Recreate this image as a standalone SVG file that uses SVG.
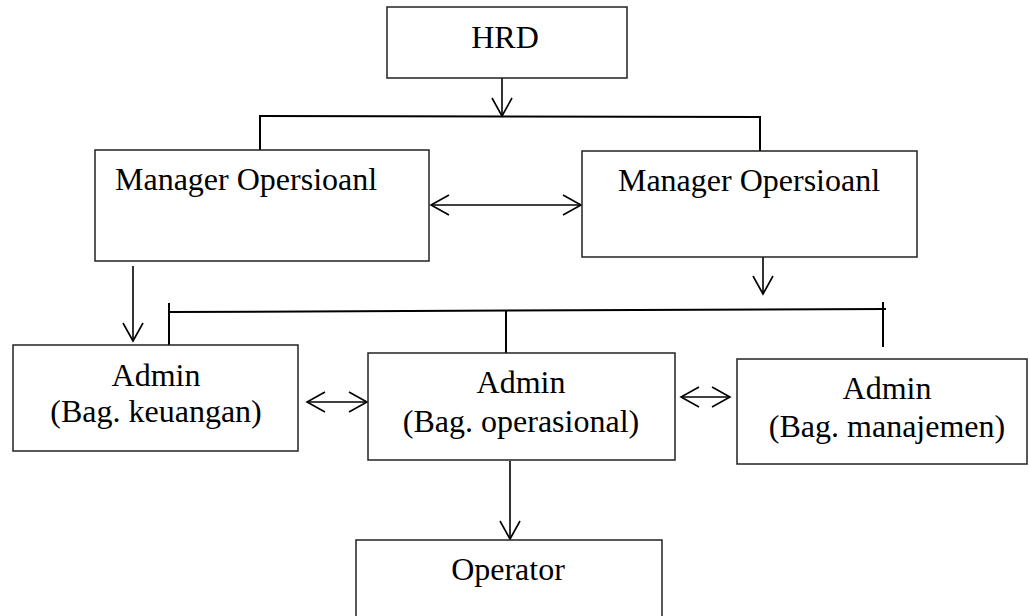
<svg xmlns="http://www.w3.org/2000/svg" width="1029" height="616" viewBox="0 0 1029 616">
<style>
.box{fill:#fff;stroke:#222;stroke-width:1.5}
.t{font-family:"Liberation Serif","Times New Roman",serif;font-size:32px;fill:#000}
.c{text-anchor:middle}
.ln{stroke:#000;stroke-width:2;fill:none}
.ar{stroke:#000;stroke-width:1.6;fill:none}
</style>
<defs>
<marker id="ah" markerUnits="userSpaceOnUse" markerWidth="22" markerHeight="24" refX="19" refY="11" orient="auto-start-reverse" viewBox="0 0 22 24">
<path d="M1,1 L19,11 L1,21" fill="none" stroke="#000" stroke-width="1.6"/>
</marker>
</defs>
<rect width="1029" height="616" fill="#fff"/>
<g id="connectors">
<line class="ar" x1="502" y1="78" x2="502" y2="116" marker-end="url(#ah)"/>
<line class="ln" x1="259" y1="116" x2="761" y2="117"/>
<line class="ln" x1="260" y1="116" x2="260" y2="151"/>
<line class="ln" x1="760" y1="117" x2="760" y2="152"/>
<line class="ar" x1="431" y1="205" x2="581" y2="205" marker-start="url(#ah)" marker-end="url(#ah)"/>
<line class="ar" x1="133" y1="266" x2="133" y2="341" marker-end="url(#ah)"/>
<line class="ar" x1="763" y1="257" x2="763" y2="294" marker-end="url(#ah)"/>
<line class="ln" x1="170" y1="312" x2="886" y2="309"/>
<line class="ln" x1="169" y1="303" x2="169" y2="349"/>
<line class="ln" x1="506" y1="311" x2="506" y2="353"/>
<line class="ln" x1="883" y1="302" x2="883" y2="347"/>
<line class="ar" x1="307" y1="402" x2="367" y2="402" marker-start="url(#ah)" marker-end="url(#ah)"/>
<line class="ar" x1="681" y1="397" x2="730" y2="397" marker-start="url(#ah)" marker-end="url(#ah)"/>
<line class="ar" x1="510" y1="461" x2="510" y2="539" marker-end="url(#ah)"/>
</g>
<g id="hrd">
<rect class="box" x="387" y="7" width="240" height="71"/>
<text class="t c" x="505" y="48">HRD</text>
</g>
<g id="manager1">
<rect class="box" x="95" y="150" width="334" height="111"/>
<text class="t" x="115" y="190">Manager Opersioanl</text>
</g>
<g id="manager2">
<rect class="box" x="582" y="151" width="335" height="106"/>
<text class="t c" x="749" y="191">Manager Opersioanl</text>
</g>
<g id="admin-keuangan">
<rect class="box" x="13" y="345" width="285" height="106"/>
<text class="t c" x="156" y="386">Admin</text>
<text class="t c" x="156" y="422">(Bag. keuangan)</text>
</g>
<g id="admin-operasional">
<rect class="box" x="368" y="353" width="307" height="107"/>
<text class="t c" x="521" y="393">Admin</text>
<text class="t c" x="521" y="432">(Bag. operasional)</text>
</g>
<g id="admin-manajemen">
<rect class="box" x="737" y="359" width="290" height="105"/>
<text class="t c" x="887" y="399">Admin</text>
<text class="t c" x="887" y="437">(Bag. manajemen)</text>
</g>
<g id="operator">
<rect class="box" x="356" y="540" width="306" height="90"/>
<text class="t c" x="508" y="580">Operator</text>
</g>
</svg>
